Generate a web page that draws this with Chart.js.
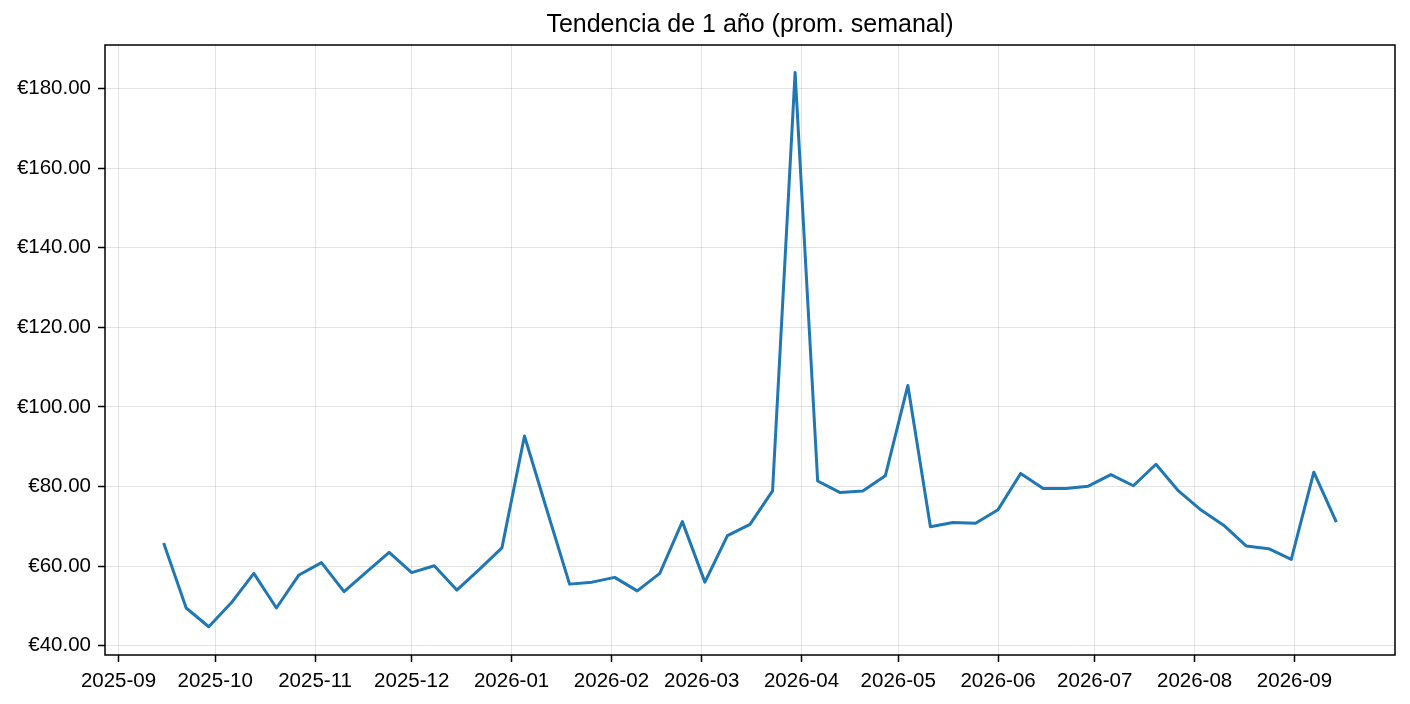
<!DOCTYPE html>
<html>
<head>
  <title>Tendencia de 1 año</title>
  <script src="https://cdn.jsdelivr.net/npm/chart.js"></script>
  <style>
    body { margin: 0; background: #fff; }
  </style>
</head>
<body>
  <canvas id="trend" width="1410" height="704"></canvas>
  <script>
    // weekly averages
    const weeks = [
      '2025-09-15','2025-09-22','2025-09-29','2025-10-06','2025-10-13','2025-10-20','2025-10-27',
      '2025-11-03','2025-11-10','2025-11-17','2025-11-24','2025-12-01','2025-12-08','2025-12-15',
      '2025-12-22','2025-12-29','2026-01-05','2026-01-12','2026-01-19','2026-01-26','2026-02-02',
      '2026-02-09','2026-02-16','2026-02-23','2026-03-02','2026-03-09','2026-03-16','2026-03-23',
      '2026-03-30','2026-04-06','2026-04-13','2026-04-20','2026-04-27','2026-05-04','2026-05-11',
      '2026-05-18','2026-05-25','2026-06-01','2026-06-08','2026-06-15','2026-06-22','2026-06-29',
      '2026-07-06','2026-07-13','2026-07-20','2026-07-27','2026-08-03','2026-08-10','2026-08-17',
      '2026-08-24','2026-08-31','2026-09-07','2026-09-14'
    ];
    const prices = [
      65.8, 49.5, 44.8, 50.8, 58.2, 49.5, 57.8,
      60.9, 53.6, 58.6, 63.5, 58.4, 60.1, 54.0,
      59.2, 64.6, 92.7, 74.0, 55.5, 56.0, 57.2,
      53.8, 58.2, 71.2, 56.0, 67.7, 70.5, 78.9,
      184.0, 81.4, 78.5, 78.9, 82.7, 105.4, 69.9,
      71.0, 70.8, 74.2, 83.3, 79.5, 79.5, 80.1,
      83.0, 80.2, 85.6, 78.9, 74.1, 70.3, 65.1,
      64.4, 61.7, 83.6, 71.1
    ];
    const monthTicks = [
      '2025-09-01','2025-10-01','2025-11-01','2025-12-01','2026-01-01','2026-02-01','2026-03-01',
      '2026-04-01','2026-05-01','2026-06-01','2026-07-01','2026-08-01','2026-09-01'
    ];
    const priceTicks = [40, 60, 80, 100, 120, 140, 160, 180];

    const toMs = d => Date.parse(d + 'T00:00:00Z');
    const xs = weeks.map(toMs);
    const span = xs[xs.length - 1] - xs[0];
    const FONT = '"Liberation Sans", Arial, sans-serif';
    const gridColor = 'rgba(176,176,176,0.35)';

    const frame = {
      id: 'frame',
      afterDraw(chart) {
        const a = chart.chartArea, c = chart.ctx;
        c.save();
        c.strokeStyle = '#000';
        c.lineWidth = 1.5;
        c.strokeRect(a.left, a.top, a.right - a.left, a.bottom - a.top);
        c.restore();
      }
    };

    new Chart(document.getElementById('trend'), {
      type: 'line',
      data: {
        datasets: [{
          data: xs.map((x, i) => ({ x: x, y: prices[i] })),
          borderColor: '#1f77b4',
          borderWidth: 3,
          borderJoinStyle: 'round',
          pointRadius: 0,
          tension: 0,
          fill: false
        }]
      },
      options: {
        responsive: false,
        animation: false,
        layout: { padding: { left: 0, right: 15, top: 0, bottom: 0 } },
        plugins: {
          legend: { display: false },
          tooltip: { enabled: false },
          title: {
            display: true,
            fullSize: false,
            text: 'Tendencia de 1 año (prom. semanal)',
            color: '#000',
            font: { family: FONT, size: 25, weight: 'normal' },
            padding: { top: 10, bottom: 5 }
          }
        },
        scales: {
          x: {
            type: 'linear',
            min: xs[0] - span * 0.05,
            max: xs[xs.length - 1] + span * 0.05,
            afterBuildTicks: s => { s.ticks = monthTicks.map(d => ({ value: toMs(d) })); },
            afterFit: s => { s.height = 49; },
            grid: { color: gridColor, lineWidth: 1, tickColor: '#000', tickLength: 7, tickWidth: 1.5 },
            border: { display: false },
            ticks: {
              autoSkip: false,
              maxRotation: 0,
              padding: 7,
              color: '#000',
              font: { family: FONT, size: 20.5 },
              callback: v => new Date(v).toISOString().slice(0, 7)
            }
          },
          y: {
            min: 37.7,
            max: 190.9,
            afterBuildTicks: s => { s.ticks = priceTicks.map(v => ({ value: v })); },
            afterFit: s => { s.width = 105; },
            grid: { color: gridColor, lineWidth: 1, tickColor: '#000', tickLength: 7, tickWidth: 1.5 },
            border: { display: false },
            ticks: {
              padding: 7,
              color: '#000',
              font: { family: FONT, size: 20.5 },
              callback: v => '€' + v.toFixed(2)
            }
          }
        }
      },
      plugins: [frame]
    });
  </script>
</body>
</html>
